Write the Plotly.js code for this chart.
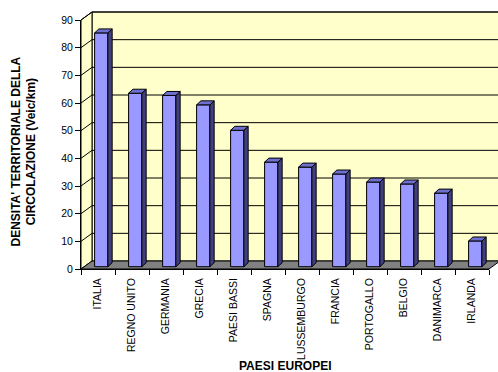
<!DOCTYPE html>
<html>
<head>
<meta charset="utf-8">
<script src="https://cdn.plot.ly/plotly-3.0.1.min.js"></script>
<style>html,body{margin:0;padding:0;background:#fff;}#chart{width:498px;height:372px;}</style>
</head>
<body>
<div id="chart"></div>
<script>
// ---- data ----
var categories = ["ITALIA","REGNO UNITO","GERMANIA","GRECIA","PAESI BASSI","SPAGNA","LUSSEMBURGO","FRANCIA","PORTOGALLO","BELGIO","DANIMARCA","IRLANDA"];
var values = [84.5, 62.7, 61.9, 58.5, 49.3, 37.8, 36.0, 33.5, 30.6, 29.9, 26.6, 9.3];
var yTicks = [0,10,20,30,40,50,60,70,80,90];
var yTitleLines = ["DENSITA' TERRITORIALE DELLA", "CIRCOLAZIONE (Veic/km)"];
var xTitle = "PAESI EUROPEI";

// ---- geometry (pixels) ----
var W = 498, H = 372;
var mL = 81, mR = 9, mT = 20, mB = 103;
var pw = W - mL - mR, ph = H - mT - mB;
var yMax = 90;
var pxX = pw / categories.length;  // px per category
var pxY = ph / yMax;               // px per unit
var WDX = 11, WDY = 8;             // wall depth offset
var BDX = 4.3, BDY = 4;            // bar depth offset
var barShiftPx = 2.3;              // bar base above front floor edge
var barW = 0.39, barOff = -0.1;

function px2paperX(px){ return (px - mL) / pw; }
function px2paperY(py){ return (H - mB - py) / ph; }
function frontY(v){ return H - mB - v * pxY; }

var idx = categories.map(function(c,i){return i;});
var bounds = [];
for (var b = 0; b <= categories.length; b++) bounds.push(b - 0.5);

// ---- walls / floor / gridlines as shapes ----
var shapes = [];
var x0 = mL, x1 = mL + pw;
var bL = x0 + WDX, bR = x1 + WDX;
shapes.push({type:'path', xref:'paper', yref:'paper', layer:'below',
  path: 'M'+px2paperX(bL)+','+px2paperY(frontY(0)-WDY)+' L'+px2paperX(bL)+','+px2paperY(frontY(yMax)-WDY)+
        ' L'+px2paperX(bR)+','+px2paperY(frontY(yMax)-WDY)+' L'+px2paperX(bR)+','+px2paperY(frontY(0)-WDY)+' Z',
  fillcolor:'#FFFFCC', line:{color:'#000', width:1}});
shapes.push({type:'path', xref:'paper', yref:'paper', layer:'below',
  path: 'M'+px2paperX(x0)+','+px2paperY(frontY(0))+' L'+px2paperX(x0)+','+px2paperY(frontY(yMax))+
        ' L'+px2paperX(bL)+','+px2paperY(frontY(yMax)-WDY)+' L'+px2paperX(bL)+','+px2paperY(frontY(0)-WDY)+' Z',
  fillcolor:'#FFFFCC', line:{color:'#000', width:1}});
yTicks.forEach(function(v){
  if (v === 0) return;
  var fy = frontY(v), by = fy - WDY;
  shapes.push({type:'path', xref:'paper', yref:'paper', layer:'below',
    path:'M'+px2paperX(x0)+','+px2paperY(fy)+' L'+px2paperX(bL)+','+px2paperY(by)+' L'+px2paperX(bR)+','+px2paperY(by),
    line:{color:'#000', width:1}});
});
shapes.push({type:'path', xref:'paper', yref:'paper', layer:'below',
  path: 'M'+px2paperX(x0)+','+px2paperY(frontY(0))+' L'+px2paperX(bL)+','+px2paperY(frontY(0)-WDY)+
        ' L'+px2paperX(bR)+','+px2paperY(frontY(0)-WDY)+' L'+px2paperX(x1)+','+px2paperY(frontY(0))+' Z',
  fillcolor:'#808080', line:{color:'#000', width:1}});

// ---- bar side and top faces from values ----
var dxd = BDX / pxX, dyd = BDY / pxY;
var sideX = [], sideY = [], capX = [], capY = [];
values.forEach(function(v,i){
  var xl = i + barOff, xr = xl + barW;
  sideX.push(xr, xr+dxd, xr+dxd, xr, xr, null);
  sideY.push(0, dyd, v+dyd, v, 0, null);
  capX.push(xl, xl+dxd, xr+dxd, xr, xl, null);
  capY.push(v, v+dyd, v+dyd, v, v, null);
});

var traces = [
  {type:'scatter', mode:'markers', x:[0], y:[0], xaxis:'x', yaxis:'y', marker:{opacity:0, size:1}, hoverinfo:'skip'},
  {type:'bar', x: idx, y: values, width: barW, offset: barOff, xaxis:'x', yaxis:'y2',
   marker:{color:'#9999FF', line:{color:'#000', width:1}}, hoverinfo:'skip'},
  {type:'scatter', mode:'lines', x: sideX, y: sideY, xaxis:'x', yaxis:'y2', fill:'toself',
   fillcolor:'#404080', line:{color:'#000', width:1}, hoverinfo:'skip'},
  {type:'scatter', mode:'lines', x: capX, y: capY, xaxis:'x', yaxis:'y2', fill:'toself',
   fillcolor:'#6F6FCF', line:{color:'#000', width:1}, hoverinfo:'skip'}
];

var shiftU = barShiftPx / pxY;
var layout = {
  width: W, height: H,
  margin: {l: mL, r: mR, t: mT, b: mB, pad: 0},
  paper_bgcolor:'#fff', plot_bgcolor:'rgba(0,0,0,0)',
  showlegend: false,
  font: {family:'Arial, Liberation Sans, sans-serif', size:10, color:'#000'},
  xaxis: {range:[-0.5, categories.length-0.5], tickmode:'array', tickvals: idx, ticktext: categories,
    tickangle:-90, ticks:'', ticklabelstandoff:4, showline:true, linecolor:'#000', linewidth:1, showgrid:false, zeroline:false,
    tickfont:{size:10.5}, fixedrange:true,
    minor:{tickmode:'array', tickvals: bounds, ticks:'outside', ticklen:5, tickcolor:'#000', showgrid:false}},
  yaxis: {range:[0, yMax], tickmode:'array', tickvals: yTicks, ticks:'outside', ticklen:5, tickcolor:'#000',
    showline:true, linecolor:'#000', linewidth:1, showgrid:false, zeroline:false, tickfont:{size:10.5}, fixedrange:true},
  yaxis2: {overlaying:'y', range:[-shiftU, yMax-shiftU], visible:false, fixedrange:true},
  shapes: shapes,
  annotations: [
    {text: '<b>' + yTitleLines.join('</b><br><b>') + '</b>', textangle:-90, xref:'paper', yref:'paper', x: px2paperX(23.5), y: px2paperY(152),
     xanchor:'center', yanchor:'middle', showarrow:false, font:{size:12, family:'Arial, Liberation Sans, sans-serif'}},
    {text: '<b>'+xTitle+'</b>', xref:'paper', yref:'paper', x: px2paperX(284.5), y: px2paperY(366),
     xanchor:'center', yanchor:'middle', showarrow:false, font:{size:12, family:'Arial, Liberation Sans, sans-serif'}}
  ]
};

Plotly.newPlot('chart', traces, layout, {displayModeBar:false, staticPlot:true});
</script>
</body>
</html>
